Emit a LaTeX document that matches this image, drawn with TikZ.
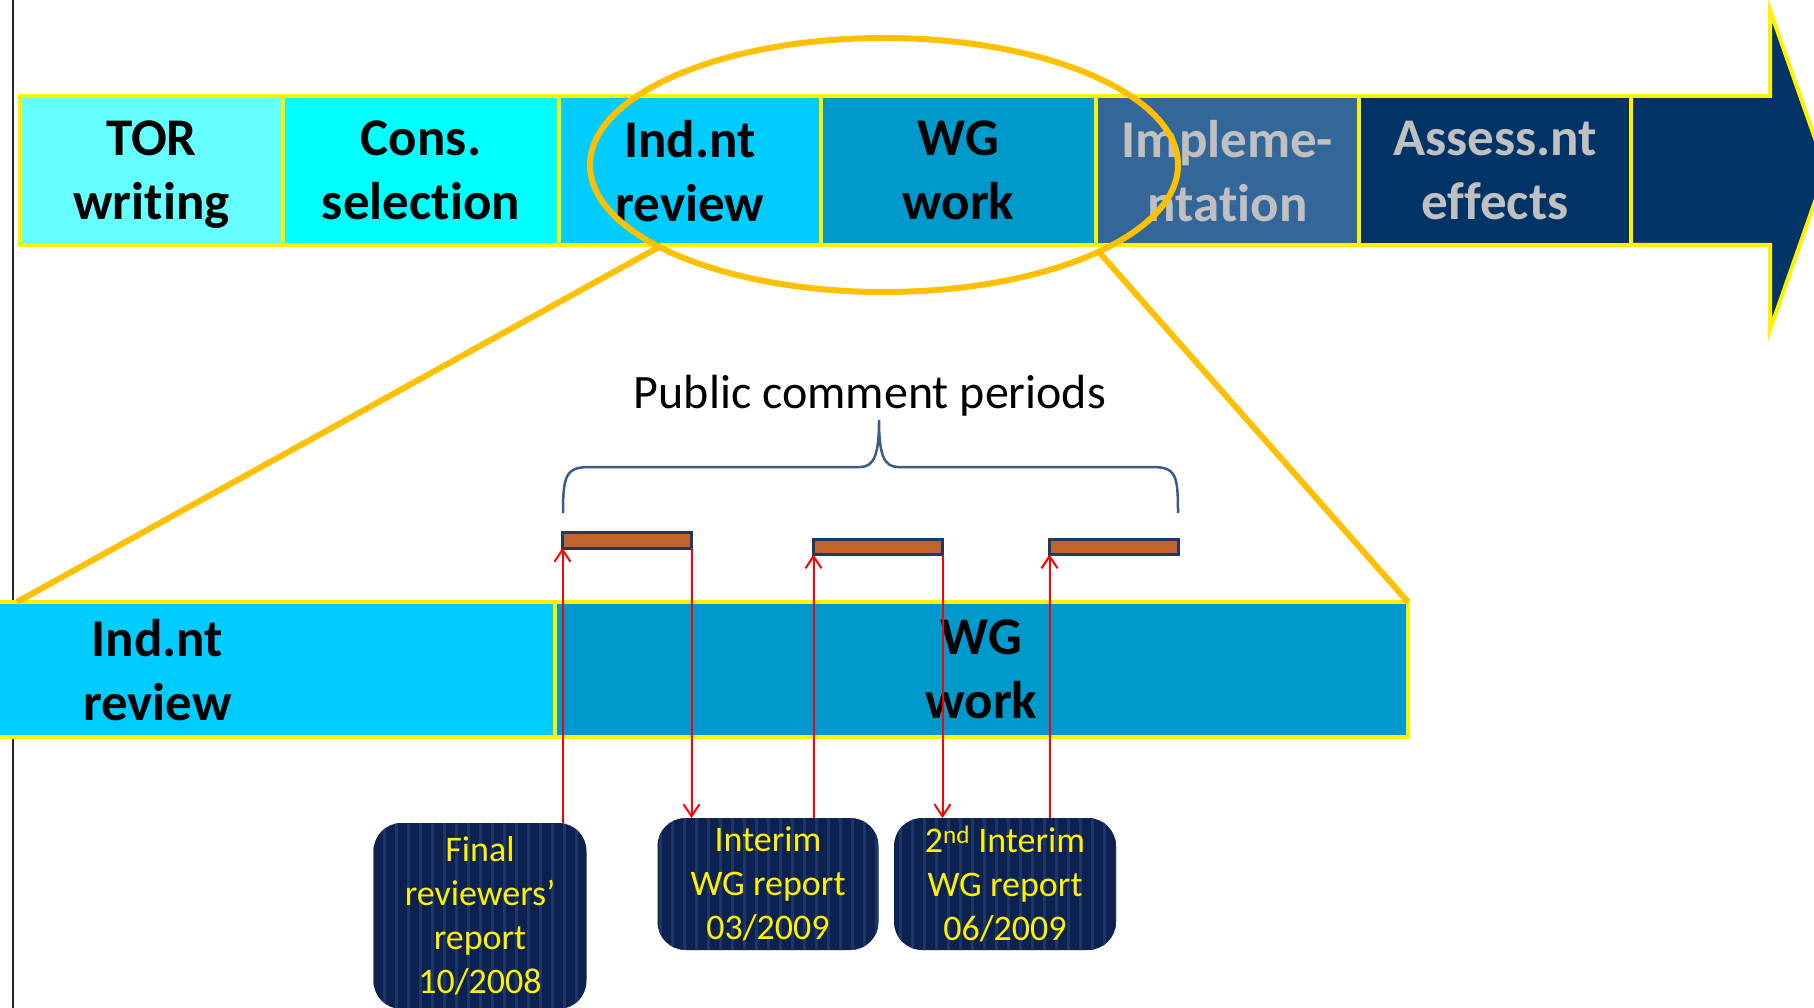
\documentclass[tikz,border=0pt]{standalone}
\usepackage{fontspec}
\setmainfont{Carlito}[Ligatures=NoCommon]
\usepackage{tikz}
\usetikzlibrary{shapes.geometric, positioning, arrows.meta, patterns.meta}

\definecolor{torcol}{HTML}{66FFFF}
\definecolor{conscol}{HTML}{00FFFF}
\definecolor{indcol}{HTML}{00CCFF}
\definecolor{wgcol}{HTML}{0099CC}
\definecolor{implcol}{HTML}{336699}
\definecolor{assesscol}{HTML}{003366}
\definecolor{greytext}{HTML}{C0C0C0}
\definecolor{ringcol}{HTML}{FFC000}
\definecolor{bracecol}{HTML}{385D8A}
\definecolor{periodcol}{HTML}{C0652D}
\definecolor{periodline}{HTML}{1F3864}
\definecolor{boxcol}{HTML}{0C2150}
\definecolor{stripecol}{HTML}{1B3768}

\tikzset{
  stagecell/.style={draw=yellow, line width=4pt, minimum height=149pt, inner sep=0pt, outer sep=0pt,
    text depth=0pt, align=center, font=\fontsize{53}{64}\selectfont\bfseries},
  reportbox/.style={rounded corners=28pt, preaction={fill=boxcol},
    pattern={Lines[angle=90,distance=12pt,line width=3pt]}, pattern color=stripecol,
    text=yellow, align=center, inner sep=0pt, outer sep=0pt, font=\fontsize{36}{44}\selectfont},
  periodbar/.style={draw=periodline, fill=periodcol, line width=3pt, minimum width=129pt,
    minimum height=15pt, inner sep=0pt, outer sep=0pt},
  linkarrow/.style={red, line width=2pt, -{Straight Barb[length=12pt,width=16pt]}},
}

\begin{document}
\begin{tikzpicture}[x=1pt,y=-1pt]
  \useasboundingbox (0,0) rectangle (1814,1008);
  \draw[line width=2pt, black!85] (13,0) -- (13,1008);

  % process arrow
  \draw[draw=yellow, fill=assesscol, line width=4pt, line join=miter]
    (1631,96) -- (1770,96) -- (1770,10) -- (1826,170) -- (1770,330) -- (1770,245) -- (1631,245) -- cycle;
  \node[stagecell, fill=torcol, minimum width=263pt, anchor=north west] (tor) at (20,96) {TOR\\writing};
  \node[stagecell, fill=conscol, minimum width=276pt, right=0pt of tor] (cons) {Cons.\\selection};
  \node[stagecell, fill=indcol, minimum width=262pt, right=0pt of cons] (ind) {Ind.nt\\review};
  \node[stagecell, fill=wgcol, minimum width=275pt, right=0pt of ind] (wg) {WG\\work};
  \node[stagecell, fill=implcol, text=greytext, minimum width=263pt, right=0pt of wg] (impl) {Impleme-\\ntation};
  \node[stagecell, fill=assesscol, text=greytext, minimum width=272pt, right=0pt of impl] (assess) {Assess.nt\\effects};

  % zoomed part
  \node[stagecell, fill=indcol, minimum width=795pt, minimum height=135pt, anchor=north east] (lowind) at (555,602) {Ind.nt\\review};
  \node[stagecell, fill=wgcol, minimum width=853pt, minimum height=135pt, right=0pt of lowind] (lowwg) {WG\\work};

  \node[ellipse, draw=ringcol, line width=6pt, minimum width=588pt, minimum height=254pt, inner sep=0pt, outer sep=0pt] (zoomring) at (884,165) {};
  \coordinate (zoomleft) at (17,602);
  \draw[ringcol, line width=6pt] (zoomring.200) -- (zoomleft);
  \draw[ringcol, line width=6pt] (zoomring.-22) -- (lowwg.north east);

  % comment periods
  \node[font=\fontsize{48}{58}\selectfont] (pclabel) at (870,396) {Public comment periods};
  \draw[bracecol, line width=2.5pt] (563,513) .. controls (563,475) and (566,467) .. (590,467) -- (860,467)
    .. controls (874,467) and (879,455) .. (879,420) .. controls (879,455) and (884,467) .. (898,467)
    -- (1152,467) .. controls (1176,467) and (1178,475) .. (1178,513);
  \node[periodbar, minimum height=16pt] (pc1) at (627,540) {};
  \node[periodbar] (pc2) at (878,547) {};
  \node[periodbar] (pc3) at (1114,547) {};

  % reports
  \node[reportbox, minimum width=213pt, minimum height=186pt] (final) at (480,916) {Final\\reviewers’\\report\\10/2008};
  \node[reportbox, minimum width=221pt, minimum height=132pt] (interim) at (768,884) {Interim\\WG report\\03/2009};
  \node[reportbox, minimum width=222pt, minimum height=132pt] (interimtwo) at (1005,884) {2\textsuperscript{nd} Interim\\WG report\\06/2009};

  \draw[linkarrow] (final.north -| pc1.south west) -- (pc1.south west);
  \draw[linkarrow] (pc1.south east) -- (pc1.south east |- interim.north);
  \draw[linkarrow] (interim.north -| pc2.south west) -- (pc2.south west);
  \draw[linkarrow] (pc2.south east) -- (pc2.south east |- interimtwo.north);
  \draw[linkarrow] (interimtwo.north -| pc3.south west) -- (pc3.south west);
\end{tikzpicture}
\end{document}
